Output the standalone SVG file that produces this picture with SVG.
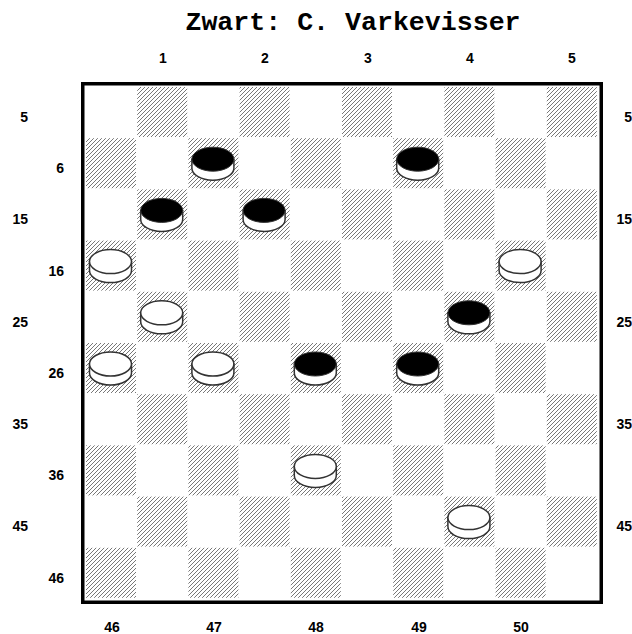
<svg xmlns="http://www.w3.org/2000/svg" width="632" height="634" viewBox="0 0 632 634">
<style>
.t{font-family:"Liberation Mono","Courier New",monospace;font-weight:bold;font-size:26.6px;fill:#000}
.l{font-family:"Liberation Sans",Arial,sans-serif;font-weight:bold;font-size:14px;fill:#000}
.c{text-anchor:middle}
.e{text-anchor:end}
.d{fill:url(#hatch)}
.side{fill:#fff;stroke:#333;stroke-width:1.5}
.btop{fill:#000;stroke:#333;stroke-width:1}
.wtop{fill:#fff;stroke:#333;stroke-width:1.5}
</style>
<defs>
<pattern id="hatch" width="4" height="4" patternUnits="userSpaceOnUse">
<path d="M-1,1 L1,-1 M0,4 L4,0 M3,5 L5,3" stroke="#555" stroke-width="0.8"/>
</pattern>
<g id="black">
<path class="side" d="M-21,0 V9 A21,12 0 0 0 21,9 V0 Z"/>
<ellipse class="btop" cx="0" cy="0" rx="21" ry="12"/>
</g>
<g id="white">
<path class="side" d="M-21,0 V9 A21,12 0 0 0 21,9 V0 Z"/>
<ellipse class="wtop" cx="0" cy="0" rx="21" ry="12"/>
</g>
</defs>
<rect width="632" height="634" fill="#fff"/>
<text class="t c" x="353" y="30">Zwart: C. Varkevisser</text>
<g id="top-labels">
<text class="l c" x="163" y="63">1</text>
<text class="l c" x="265" y="63">2</text>
<text class="l c" x="368" y="63">3</text>
<text class="l c" x="470" y="63">4</text>
<text class="l c" x="572" y="63">5</text>
</g>
<g id="bottom-labels">
<text class="l c" x="112" y="632">46</text>
<text class="l c" x="214" y="632">47</text>
<text class="l c" x="316" y="632">48</text>
<text class="l c" x="419" y="632">49</text>
<text class="l c" x="521" y="632">50</text>
</g>
<g id="left-labels">
<text class="l e" x="28" y="122">5</text>
<text class="l e" x="64" y="173">6</text>
<text class="l e" x="28" y="224">15</text>
<text class="l e" x="64" y="276">16</text>
<text class="l e" x="28" y="327">25</text>
<text class="l e" x="64" y="378">26</text>
<text class="l e" x="28" y="429">35</text>
<text class="l e" x="64" y="480">36</text>
<text class="l e" x="28" y="531">45</text>
<text class="l e" x="64" y="583">46</text>
</g>
<g id="right-labels">
<text class="l e" x="632" y="122">5</text>
<text class="l e" x="632" y="224">15</text>
<text class="l e" x="632" y="327">25</text>
<text class="l e" x="632" y="429">35</text>
<text class="l e" x="632" y="531">45</text>
</g>
<g id="board">
<rect x="82.75" y="83.75" width="518.5" height="518.5" fill="#fff" stroke="#000" stroke-width="3.5"/>
<g id="dark-squares">
<rect class="d" x="137.2" y="87" width="50" height="50"/><rect class="d" x="239.6" y="87" width="50" height="50"/><rect class="d" x="342" y="87" width="50" height="50"/><rect class="d" x="444.4" y="87" width="50" height="50"/><rect class="d" x="546.8" y="87" width="50" height="50"/>
<rect class="d" x="86" y="138.2" width="50" height="50"/><rect class="d" x="188.4" y="138.2" width="50" height="50"/><rect class="d" x="290.8" y="138.2" width="50" height="50"/><rect class="d" x="393.2" y="138.2" width="50" height="50"/><rect class="d" x="495.6" y="138.2" width="50" height="50"/>
<rect class="d" x="137.2" y="189.4" width="50" height="50"/><rect class="d" x="239.6" y="189.4" width="50" height="50"/><rect class="d" x="342" y="189.4" width="50" height="50"/><rect class="d" x="444.4" y="189.4" width="50" height="50"/><rect class="d" x="546.8" y="189.4" width="50" height="50"/>
<rect class="d" x="86" y="240.6" width="50" height="50"/><rect class="d" x="188.4" y="240.6" width="50" height="50"/><rect class="d" x="290.8" y="240.6" width="50" height="50"/><rect class="d" x="393.2" y="240.6" width="50" height="50"/><rect class="d" x="495.6" y="240.6" width="50" height="50"/>
<rect class="d" x="137.2" y="291.8" width="50" height="50"/><rect class="d" x="239.6" y="291.8" width="50" height="50"/><rect class="d" x="342" y="291.8" width="50" height="50"/><rect class="d" x="444.4" y="291.8" width="50" height="50"/><rect class="d" x="546.8" y="291.8" width="50" height="50"/>
<rect class="d" x="86" y="343" width="50" height="50"/><rect class="d" x="188.4" y="343" width="50" height="50"/><rect class="d" x="290.8" y="343" width="50" height="50"/><rect class="d" x="393.2" y="343" width="50" height="50"/><rect class="d" x="495.6" y="343" width="50" height="50"/>
<rect class="d" x="137.2" y="394.2" width="50" height="50"/><rect class="d" x="239.6" y="394.2" width="50" height="50"/><rect class="d" x="342" y="394.2" width="50" height="50"/><rect class="d" x="444.4" y="394.2" width="50" height="50"/><rect class="d" x="546.8" y="394.2" width="50" height="50"/>
<rect class="d" x="86" y="445.4" width="50" height="50"/><rect class="d" x="188.4" y="445.4" width="50" height="50"/><rect class="d" x="290.8" y="445.4" width="50" height="50"/><rect class="d" x="393.2" y="445.4" width="50" height="50"/><rect class="d" x="495.6" y="445.4" width="50" height="50"/>
<rect class="d" x="137.2" y="496.6" width="50" height="50"/><rect class="d" x="239.6" y="496.6" width="50" height="50"/><rect class="d" x="342" y="496.6" width="50" height="50"/><rect class="d" x="444.4" y="496.6" width="50" height="50"/><rect class="d" x="546.8" y="496.6" width="50" height="50"/>
<rect class="d" x="86" y="547.8" width="50" height="50"/><rect class="d" x="188.4" y="547.8" width="50" height="50"/><rect class="d" x="290.8" y="547.8" width="50" height="50"/><rect class="d" x="393.2" y="547.8" width="50" height="50"/><rect class="d" x="495.6" y="547.8" width="50" height="50"/>
</g>
</g>
<g id="pieces">
<use id="b7" href="#black" x="212.9" y="159.2"/>
<use id="b9" href="#black" x="417.7" y="159.2"/>
<use id="b11" href="#black" x="161.7" y="210.4"/>
<use id="b12" href="#black" x="264.1" y="210.4"/>
<use id="w16" href="#white" x="110.5" y="261.6"/>
<use id="w20" href="#white" x="520.1" y="261.6"/>
<use id="w21" href="#white" x="161.7" y="312.8"/>
<use id="b24" href="#black" x="468.9" y="312.8"/>
<use id="w26" href="#white" x="110.5" y="364"/>
<use id="w27" href="#white" x="212.9" y="364"/>
<use id="b28" href="#black" x="315.3" y="364"/>
<use id="b29" href="#black" x="417.7" y="364"/>
<use id="w38" href="#white" x="315.3" y="466.4"/>
<use id="w44" href="#white" x="468.9" y="517.6"/>
</g>
</svg>
